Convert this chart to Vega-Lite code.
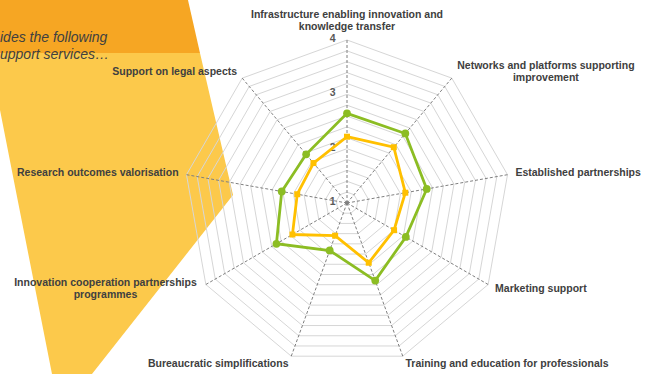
{
  "$schema": "https://vega.github.io/schema/vega-lite/v6.json",
  "width": 645,
  "height": 374,
  "autosize": {"type": "none"},
  "padding": 0,
  "background": "white",
  "config": {"view": {"stroke": null}},
  "datasets": {
    "axes": [
      {"idx": 0, "label": ["Infrastructure enabling innovation and", "knowledge transfer"]},
      {"idx": 1, "label": ["Networks and platforms supporting", "improvement"]},
      {"idx": 2, "label": "Established partnerships"},
      {"idx": 3, "label": "Marketing support"},
      {"idx": 4, "label": "Training and education for professionals"},
      {"idx": 5, "label": "Bureaucratic simplifications"},
      {"idx": 6, "label": ["Innovation cooperation partnerships", "programmes"]},
      {"idx": 7, "label": "Research outcomes valorisation"},
      {"idx": 8, "label": "Support on legal aspects"}
    ],
    "scores": [
      {"category": "Infrastructure enabling innovation and knowledge transfer", "idx": 0, "series": "Series 1", "value": 2.65},
      {"category": "Networks and platforms supporting improvement", "idx": 1, "series": "Series 1", "value": 2.67},
      {"category": "Established partnerships", "idx": 2, "series": "Series 1", "value": 2.49},
      {"category": "Marketing support", "idx": 3, "series": "Series 1", "value": 2.25},
      {"category": "Training and education for professionals", "idx": 4, "series": "Series 1", "value": 2.52},
      {"category": "Bureaucratic simplifications", "idx": 5, "series": "Series 1", "value": 1.93},
      {"category": "Innovation cooperation partnerships programmes", "idx": 6, "series": "Series 1", "value": 2.5},
      {"category": "Research outcomes valorisation", "idx": 7, "series": "Series 1", "value": 2.22},
      {"category": "Support on legal aspects", "idx": 8, "series": "Series 1", "value": 2.17},
      {"category": "Infrastructure enabling innovation and knowledge transfer", "idx": 0, "series": "Series 2", "value": 2.22},
      {"category": "Networks and platforms supporting improvement", "idx": 1, "series": "Series 2", "value": 2.34},
      {"category": "Established partnerships", "idx": 2, "series": "Series 2", "value": 2.09},
      {"category": "Marketing support", "idx": 3, "series": "Series 2", "value": 2.0},
      {"category": "Training and education for professionals", "idx": 4, "series": "Series 2", "value": 2.17},
      {"category": "Bureaucratic simplifications", "idx": 5, "series": "Series 2", "value": 1.64},
      {"category": "Innovation cooperation partnerships programmes", "idx": 6, "series": "Series 2", "value": 2.16},
      {"category": "Research outcomes valorisation", "idx": 7, "series": "Series 2", "value": 1.93},
      {"category": "Support on legal aspects", "idx": 8, "series": "Series 2", "value": 1.96}
    ],
    "grid": [
      {"level": 1.2, "k": [0, 1, 2, 3, 4, 5, 6, 7, 8]},
      {"level": 1.4, "k": [0, 1, 2, 3, 4, 5, 6, 7, 8]},
      {"level": 1.6, "k": [0, 1, 2, 3, 4, 5, 6, 7, 8]},
      {"level": 1.8, "k": [0, 1, 2, 3, 4, 5, 6, 7, 8]},
      {"level": 2.0, "k": [0, 1, 2, 3, 4, 5, 6, 7, 8]},
      {"level": 2.2, "k": [0, 1, 2, 3, 4, 5, 6, 7, 8]},
      {"level": 2.4, "k": [0, 1, 2, 3, 4, 5, 6, 7, 8]},
      {"level": 2.6, "k": [0, 1, 2, 3, 4, 5, 6, 7, 8]},
      {"level": 2.8, "k": [0, 1, 2, 3, 4, 5, 6, 7, 8]},
      {"level": 3.0, "k": [0, 1, 2, 3, 4, 5, 6, 7, 8]},
      {"level": 3.2, "k": [0, 1, 2, 3, 4, 5, 6, 7, 8]},
      {"level": 3.4, "k": [0, 1, 2, 3, 4, 5, 6, 7, 8]},
      {"level": 3.6, "k": [0, 1, 2, 3, 4, 5, 6, 7, 8]},
      {"level": 3.8, "k": [0, 1, 2, 3, 4, 5, 6, 7, 8]},
      {"level": 4.0, "k": [0, 1, 2, 3, 4, 5, 6, 7, 8]}
    ],
    "ticks": [{"level": 1}, {"level": 2}, {"level": 3}, {"level": 4}],
    "decor": [
      {"part": "band", "y": 3.736, "x": -6.387, "x2": -2.927},
      {"part": "band", "y": 2.761, "x": -6.387, "x2": -2.706},
      {"part": "fill", "y": 2.761, "x": -6.387, "x2": -2.706},
      {"part": "fill", "y": 1.712, "x": -6.387, "x2": -2.463},
      {"part": "fill", "y": 0.147, "x": -6.08, "x2": -2.098},
      {"part": "fill", "y": -3.147, "x": -5.43, "x2": -4.694}
    ],
    "decorText": [
      {"x": -6.387, "y": 2.881, "text": ["ides the following", "upport services…"]}
    ]
  },
  "encoding": {
    "x": {"field": "x", "type": "quantitative", "scale": {"domain": [-6.387, 5.485], "nice": false, "zero": false}, "axis": null},
    "y": {"field": "y", "type": "quantitative", "scale": {"domain": [-3.147, 3.736], "nice": false, "zero": false}, "axis": null}
  },
  "layer": [
    {
      "data": {"name": "decor"},
      "transform": [{"filter": "datum.part === 'fill'"}],
      "mark": {"type": "area", "orient": "horizontal", "color": "#fcc94b", "opacity": 1},
      "encoding": {"x2": {"field": "x2"}, "x": {"field": "x", "type": "quantitative", "stack": null}}
    },
    {
      "data": {"name": "decor"},
      "transform": [{"filter": "datum.part === 'band'"}],
      "mark": {"type": "area", "orient": "horizontal", "color": "#f6a623", "opacity": 1},
      "encoding": {"x2": {"field": "x2"}, "x": {"field": "x", "type": "quantitative", "stack": null}}
    },
    {
      "data": {"name": "decorText"},
      "mark": {"type": "text", "align": "left", "baseline": "middle", "dy": -8, "font": "Liberation Sans", "fontSize": 14, "fontStyle": "italic", "color": "#404040", "lineHeight": 17},
      "encoding": {"text": {"field": "text"}}
    },
    {
      "data": {"name": "grid"},
      "transform": [
        {"flatten": ["k"]},
        {"calculate": "datum.k * 2 * PI / 9", "as": "a"},
        {"calculate": "(datum.level - 1) * sin(datum.a)", "as": "x"},
        {"calculate": "(datum.level - 1) * cos(datum.a)", "as": "y"}
      ],
      "mark": {"type": "line", "interpolate": "linear-closed", "color": "#d6d6d6", "strokeWidth": 1},
      "encoding": {"detail": {"field": "level"}, "order": {"field": "k"}}
    },
    {
      "data": {"name": "axes"},
      "transform": [
        {"calculate": "datum.idx * 2 * PI / 9", "as": "a"},
        {"calculate": "0", "as": "x"},
        {"calculate": "0", "as": "y"},
        {"calculate": "3 * sin(datum.a)", "as": "x2"},
        {"calculate": "3 * cos(datum.a)", "as": "y2"}
      ],
      "mark": {"type": "rule", "color": "#7f7f7f", "strokeWidth": 1, "strokeDash": [3, 2]},
      "encoding": {"x2": {"field": "x2"}, "y2": {"field": "y2"}}
    },
    {
      "data": {"name": "ticks"},
      "transform": [
        {"filter": "datum.level === 1"},
        {"calculate": "0", "as": "x"},
        {"calculate": "0", "as": "y"}
      ],
      "mark": {"type": "point", "shape": "circle", "filled": true, "size": 16, "color": "#808080", "opacity": 1}
    },
    {
      "data": {"name": "ticks"},
      "transform": [
        {"calculate": "0", "as": "x"},
        {"calculate": "datum.level - 1", "as": "y"}
      ],
      "mark": {"type": "text", "align": "right", "baseline": "middle", "dx": -11.5, "dy": -1, "font": "Liberation Sans", "fontSize": 10.5, "fontWeight": "bold", "color": "#595959"},
      "encoding": {"text": {"field": "level"}}
    },
    {
      "data": {"name": "scores"},
      "transform": [
        {"calculate": "datum.idx * 2 * PI / 9", "as": "a"},
        {"calculate": "(datum.value - 1) * sin(datum.a)", "as": "x"},
        {"calculate": "(datum.value - 1) * cos(datum.a)", "as": "y"}
      ],
      "mark": {"type": "line", "interpolate": "linear-closed", "strokeWidth": 2.8},
      "encoding": {
        "color": {"field": "series", "type": "nominal", "scale": {"domain": ["Series 1", "Series 2"], "range": ["#8cbd23", "#ffc000"]}, "legend": null},
        "order": {"field": "idx"}
      }
    },
    {
      "data": {"name": "scores"},
      "transform": [
        {"filter": "datum.series === 'Series 1'"},
        {"calculate": "datum.idx * 2 * PI / 9", "as": "a"},
        {"calculate": "(datum.value - 1) * sin(datum.a)", "as": "x"},
        {"calculate": "(datum.value - 1) * cos(datum.a)", "as": "y"}
      ],
      "mark": {"type": "point", "shape": "circle", "filled": true, "size": 60, "color": "#8cbd23", "opacity": 1}
    },
    {
      "data": {"name": "scores"},
      "transform": [
        {"filter": "datum.series === 'Series 2'"},
        {"calculate": "datum.idx * 2 * PI / 9", "as": "a"},
        {"calculate": "(datum.value - 1) * sin(datum.a)", "as": "x"},
        {"calculate": "(datum.value - 1) * cos(datum.a)", "as": "y"}
      ],
      "mark": {"type": "point", "shape": "square", "filled": true, "size": 36, "color": "#ffc000", "opacity": 1}
    },
    {
      "data": {"name": "axes"},
      "transform": [
        {"filter": "datum.idx === 0"},
        {"calculate": "datum.idx * 2 * PI / 9", "as": "a"},
        {"calculate": "3.147 * sin(datum.a)", "as": "x"},
        {"calculate": "3.147 * cos(datum.a)", "as": "y"}
      ],
      "mark": {"type": "text", "align": "center", "baseline": "bottom", "dy": -12, "font": "Liberation Sans", "fontSize": 10.5, "fontWeight": "bold", "color": "#404040", "lineHeight": 12},
      "encoding": {"text": {"field": "label"}}
    },
    {
      "data": {"name": "axes"},
      "transform": [
        {"filter": "datum.idx === 1"},
        {"calculate": "datum.idx * 2 * PI / 9", "as": "a"},
        {"calculate": "3.147 * sin(datum.a)", "as": "x"},
        {"calculate": "3.147 * cos(datum.a)", "as": "y"}
      ],
      "mark": {"type": "text", "align": "center", "baseline": "middle", "dx": 89, "dy": -6.5, "font": "Liberation Sans", "fontSize": 10.5, "fontWeight": "bold", "color": "#404040", "lineHeight": 12.5},
      "encoding": {"text": {"field": "label"}}
    },
    {
      "data": {"name": "axes"},
      "transform": [
        {"filter": "datum.idx === 6"},
        {"calculate": "datum.idx * 2 * PI / 9", "as": "a"},
        {"calculate": "3.147 * sin(datum.a)", "as": "x"},
        {"calculate": "3.147 * cos(datum.a)", "as": "y"}
      ],
      "mark": {"type": "text", "align": "center", "baseline": "middle", "dx": -93.5, "dy": -6, "font": "Liberation Sans", "fontSize": 10.5, "fontWeight": "bold", "color": "#404040", "lineHeight": 12},
      "encoding": {"text": {"field": "label"}}
    },
    {
      "data": {"name": "axes"},
      "transform": [
        {"filter": "datum.idx >= 2 && datum.idx <= 4"},
        {"calculate": "datum.idx * 2 * PI / 9", "as": "a"},
        {"calculate": "3.147 * sin(datum.a)", "as": "x"},
        {"calculate": "3.147 * cos(datum.a)", "as": "y"}
      ],
      "mark": {"type": "text", "align": "left", "baseline": "middle", "font": "Liberation Sans", "fontSize": 10.5, "fontWeight": "bold", "color": "#404040"},
      "encoding": {"text": {"field": "label"}}
    },
    {
      "data": {"name": "axes"},
      "transform": [
        {"filter": "datum.idx === 5 || datum.idx === 7 || datum.idx === 8"},
        {"calculate": "datum.idx * 2 * PI / 9", "as": "a"},
        {"calculate": "3.147 * sin(datum.a)", "as": "x"},
        {"calculate": "3.147 * cos(datum.a)", "as": "y"}
      ],
      "mark": {"type": "text", "align": "right", "baseline": "middle", "font": "Liberation Sans", "fontSize": 10.5, "fontWeight": "bold", "color": "#404040"},
      "encoding": {"text": {"field": "label"}}
    }
  ]
}
